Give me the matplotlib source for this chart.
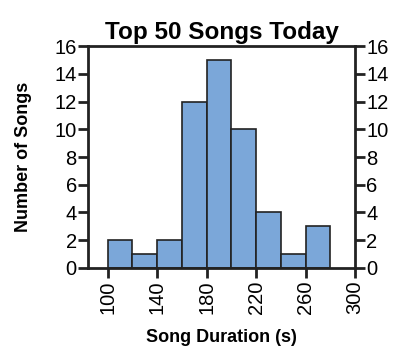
import matplotlib
matplotlib.use("Agg")
import matplotlib.pyplot as plt

plt.rcParams['font.family'] = ['Liberation Sans', 'DejaVu Sans']

# histogram bins (song duration, s) and counts
bin_edges = [100, 120, 140, 160, 180, 200, 220, 240, 260, 280]
counts = [2, 1, 2, 12, 15, 10, 4, 1, 3]
x_ticks = [100, 140, 180, 220, 260, 300]
y_ticks = [0, 2, 4, 6, 8, 10, 12, 14, 16]

fig = plt.figure(figsize=(3.98, 3.47), dpi=100)
ax = fig.add_axes([0.221, 0.228, 0.671, 0.639])

ax.hist(bin_edges[:-1], bins=bin_edges, weights=counts,
        color='#7BA7D9', edgecolor='#222222', linewidth=1.2)

ax.set_xlim(84, 300)
ax.set_ylim(0, 16)
ax.set_xticks(x_ticks)
ax.set_xticklabels([str(t) for t in x_ticks], rotation=90)
ax.set_yticks(y_ticks)

for s in ax.spines.values():
    s.set_linewidth(2)
    s.set_color('#222222')

ax.tick_params(axis='y', which='both', left=True, right=True,
               labelleft=True, labelright=True, direction='out',
               length=7, width=2, labelsize=14.5, pad=1, color='#222222')
ax.tick_params(axis='x', direction='out', length=7, width=2,
               labelsize=14.5, pad=2, color='#222222')

ax.set_title('Top 50 Songs Today', fontsize=17.5, fontweight='bold', pad=5)
ax.set_xlabel('Song Duration (s)', fontsize=13, fontweight='bold', labelpad=11)
ax.set_ylabel('Number of Songs', fontsize=13, fontweight='bold', labelpad=16)

fig.savefig('out.png', dpi=100)
